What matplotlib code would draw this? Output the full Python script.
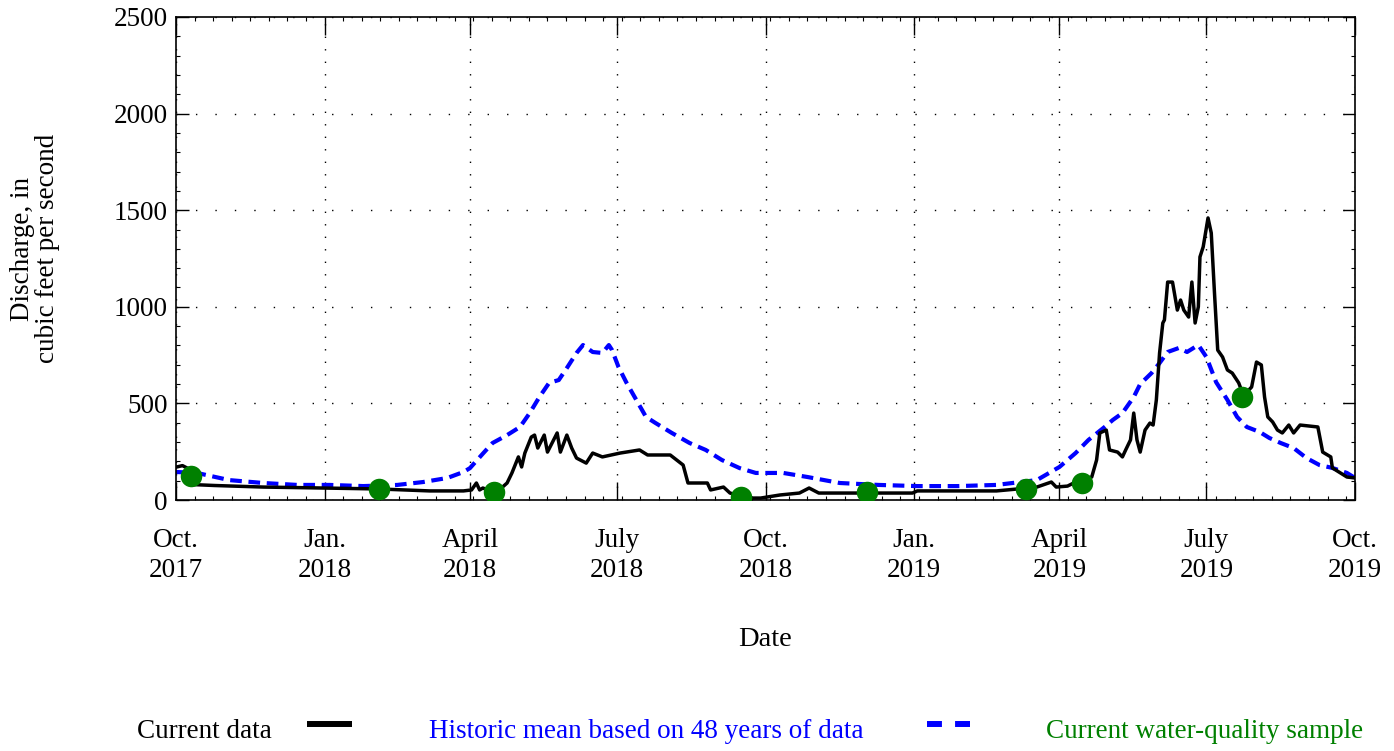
import matplotlib
matplotlib.use('Agg')
import matplotlib.pyplot as plt
from matplotlib.lines import Line2D
from matplotlib.ticker import AutoMinorLocator, MultipleLocator
import pandas as pd

plt.rcParams['font.family'] = ['Liberation Serif', 'DejaVu Serif']

# Current daily discharge, cubic feet per second
current_dates = [
    '2017-10-01', '2017-10-05', '2017-10-08', '2017-10-11', '2017-10-25', '2017-11-24',
    '2017-12-31', '2018-02-04', '2018-03-07', '2018-03-28', '2018-04-02', '2018-04-05',
    '2018-04-07', '2018-04-09', '2018-04-17', '2018-04-24', '2018-04-27', '2018-05-01',
    '2018-05-03', '2018-05-05', '2018-05-09', '2018-05-11', '2018-05-13', '2018-05-17',
    '2018-05-19', '2018-05-25', '2018-05-27', '2018-05-31', '2018-06-03', '2018-06-06',
    '2018-06-12', '2018-06-16', '2018-06-22', '2018-07-03', '2018-07-15', '2018-07-20',
    '2018-08-03', '2018-08-07', '2018-08-11', '2018-08-14', '2018-08-26', '2018-08-28',
    '2018-09-05', '2018-09-09', '2018-09-21', '2018-09-28', '2018-10-10', '2018-10-22',
    '2018-10-28', '2018-11-03', '2018-11-28', '2018-12-31', '2019-01-03', '2019-02-21',
    '2019-03-06', '2019-03-18', '2019-03-27', '2019-03-30', '2019-04-06', '2019-04-11',
    '2019-04-21', '2019-04-24', '2019-04-26', '2019-04-30', '2019-05-02', '2019-05-07',
    '2019-05-10', '2019-05-12', '2019-05-15', '2019-05-17', '2019-05-19', '2019-05-21',
    '2019-05-24', '2019-05-27', '2019-05-29', '2019-05-31', '2019-06-02', '2019-06-04',
    '2019-06-05', '2019-06-07', '2019-06-10', '2019-06-13', '2019-06-15', '2019-06-17',
    '2019-06-20', '2019-06-22', '2019-06-24', '2019-06-26', '2019-06-27', '2019-06-29',
    '2019-07-02', '2019-07-04', '2019-07-06', '2019-07-08', '2019-07-11', '2019-07-14',
    '2019-07-17', '2019-07-21', '2019-07-24', '2019-07-29', '2019-08-01', '2019-08-04',
    '2019-08-06', '2019-08-08', '2019-08-11', '2019-08-14', '2019-08-17', '2019-08-21',
    '2019-08-24', '2019-08-28', '2019-09-08', '2019-09-11', '2019-09-16', '2019-09-17',
    '2019-09-26', '2019-10-01',
]
current_cfs = [
    170, 178, 165, 80, 75, 67,
    62, 57, 47, 47, 52, 88,
    52, 62, 36, 88, 140, 223,
    171, 243, 326, 336, 269, 336,
    248, 347, 248, 336, 269, 217,
    191, 243, 223, 243, 259, 233,
    233, 207, 181, 88, 88, 52,
    67, 36, 10, 10, 26, 36,
    62, 36, 36, 36, 47, 47,
    57, 67, 93, 67, 72, 93,
    119, 207, 347, 362, 259, 248,
    223, 259, 311, 450, 311, 248,
    362, 398, 388, 518, 761, 916,
    932, 1128, 1128, 983, 1035, 983,
    947, 1128, 916, 1000, 1258, 1310,
    1460, 1382, 1071, 776, 740, 673,
    657, 606, 540, 585, 714, 699,
    533, 430, 404, 362, 347, 388,
    347, 388, 378, 248, 223, 166,
    119, 114,
]

# Historic mean (48 years of record)
hist_dates = [
    '2017-10-01', '2017-10-14', '2017-11-03', '2017-11-24', '2017-12-15', '2018-01-04',
    '2018-01-25', '2018-02-15', '2018-03-03', '2018-03-18', '2018-03-28', '2018-04-01',
    '2018-04-09', '2018-04-15', '2018-04-24', '2018-05-02', '2018-05-08', '2018-05-14',
    '2018-05-20', '2018-05-26', '2018-05-31', '2018-06-06', '2018-06-10', '2018-06-16',
    '2018-06-22', '2018-06-26', '2018-06-28', '2018-07-02', '2018-07-07', '2018-07-13',
    '2018-07-19', '2018-07-25', '2018-08-04', '2018-08-15', '2018-08-25', '2018-09-04',
    '2018-09-15', '2018-09-25', '2018-10-12', '2018-10-27', '2018-11-16', '2018-12-10',
    '2019-01-03', '2019-01-28', '2019-02-21', '2019-03-18', '2019-04-01', '2019-04-11',
    '2019-04-19', '2019-04-29', '2019-05-04', '2019-05-10', '2019-05-17', '2019-05-21',
    '2019-05-28', '2019-06-02', '2019-06-07', '2019-06-14', '2019-06-19', '2019-06-24',
    '2019-06-26', '2019-07-01', '2019-07-07', '2019-07-14', '2019-07-20', '2019-07-26',
    '2019-08-03', '2019-08-09', '2019-08-16', '2019-08-24', '2019-09-01', '2019-09-09',
    '2019-09-17', '2019-09-26', '2019-10-01',
]
hist_cfs = [
    145, 140, 103, 88, 78, 78,
    72, 78, 93, 114, 145, 165,
    240, 295, 336, 378, 450, 533,
    606, 621, 683, 761, 802, 766,
    761, 802, 776, 688, 606, 518,
    430, 398, 347, 295, 259, 207,
    165, 140, 140, 119, 88, 78,
    72, 72, 78, 103, 171, 243,
    311, 378, 414, 450, 533, 600,
    657, 709, 766, 787, 766, 792,
    802, 740, 610, 518, 430, 378,
    352, 321, 295, 269, 217, 181,
    166, 140, 114,
]

# Water-quality samples
sample_dates = ['2017-10-10', '2018-02-04', '2018-04-16', '2018-09-16',
                '2018-12-03', '2019-03-11', '2019-04-15', '2019-07-23']
sample_cfs = [124, 57, 41, 16, 41, 57, 88, 533]

tick_dates = ['2017-10-01', '2018-01-01', '2018-04-01', '2018-07-01', '2018-10-01',
              '2019-01-01', '2019-04-01', '2019-07-01', '2019-10-01']
tick_labels = ['Oct.\n2017', 'Jan.\n2018', 'April\n2018', 'July\n2018', 'Oct.\n2018',
               'Jan.\n2019', 'April\n2019', 'July\n2019', 'Oct.\n2019']

FS = 19.5

fig = plt.figure(figsize=(13.94, 7.51), dpi=100)
ax = fig.add_axes([176 / 1394, 251 / 751, 1179 / 1394, 483 / 751])

ax.plot(pd.to_datetime(hist_dates), hist_cfs, color='#0000ff', lw=3,
        linestyle=(0, (2.8, 1.6)), zorder=2)
ax.plot(pd.to_datetime(current_dates), current_cfs, color='black', lw=2.5, zorder=3)
ax.plot(pd.to_datetime(sample_dates), sample_cfs, 'o', color='#008000',
        markersize=15.5, markeredgewidth=0, zorder=4)

ax.set_xlim(pd.Timestamp('2017-10-01'), pd.Timestamp('2019-10-01'))
ax.set_ylim(0, 2500)
ax.set_xticks(pd.to_datetime(tick_dates))
ax.set_xticklabels(tick_labels, fontsize=FS, linespacing=1.25)
ax.xaxis.set_minor_locator(AutoMinorLocator(8))
ax.yaxis.set_major_locator(MultipleLocator(500))
ax.yaxis.set_minor_locator(MultipleLocator(100))
for lab in ax.get_yticklabels():
    lab.set_fontsize(FS)

ax.tick_params(axis='x', which='major', direction='in', length=13, width=1, pad=20, top=True)
ax.tick_params(axis='y', which='major', direction='in', length=9, width=1, pad=6, right=True)
ax.tick_params(which='minor', direction='in', length=3, width=0.8, top=True, right=True)

ax.grid(axis='y', which='major', color='black', lw=1, linestyle=(0, (1, 13)))
ax.grid(axis='x', which='major', color='black', lw=1, linestyle=(0, (1, 8)))
for s in ax.spines.values():
    s.set_linewidth(1.2)

ax.set_ylabel('Discharge, in\ncubic feet per second', fontsize=FS, linespacing=1.05)
ax.yaxis.set_label_coords(-0.098, 0.52)
ax.set_xlabel('Date', fontsize=FS + 1)
ax.xaxis.set_label_coords(0.5, -0.262)

# legend row at the bottom
ly = 1 - 731 / 751
fig.text(204 / 1394, ly, 'Current data', fontsize=FS, color='black', ha='center', va='center')
fig.add_artist(Line2D([307 / 1394, 352 / 1394], [1 - 724 / 751] * 2, color='black', lw=4.3,
                      solid_capstyle='butt'))
fig.text(646 / 1394, ly, 'Historic mean based on 48 years of data', fontsize=FS,
         color='#0000ff', ha='center', va='center')
fig.add_artist(Line2D([927 / 1394, 970 / 1394], [1 - 724 / 751] * 2, color='#0000ff', lw=4.3,
                      linestyle=(0, (2.5, 2.2)), dash_capstyle='butt'))
fig.text(1205 / 1394, ly, 'Current water-quality sample', fontsize=FS, color='#008000',
         ha='center', va='center')

fig.savefig('out.png', dpi=100)
